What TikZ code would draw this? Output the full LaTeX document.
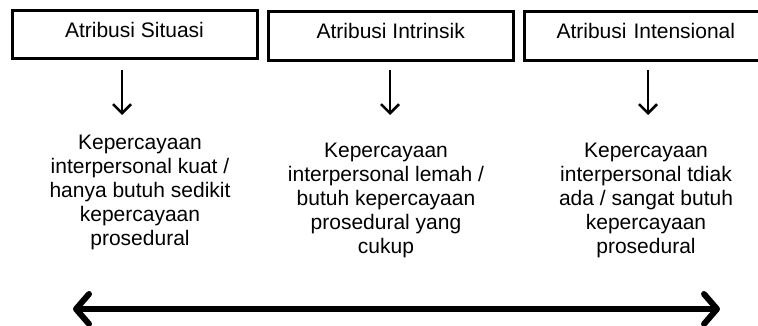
\documentclass[tikz,border=0pt]{standalone}
\usepackage{fontspec}
\setmainfont{Liberation Sans}
\usetikzlibrary{arrows.meta}
\begin{document}
\begin{tikzpicture}[x=1pt,y=-1pt,
  box/.style={draw, line width=3pt, inner sep=0pt, text height=15pt, text depth=10pt,
    font=\fontsize{21}{24}\selectfont},
  desc/.style={align=center, anchor=north, inner sep=0pt, font=\fontsize{21}{24}\selectfont},
  downarr/.style={line width=2.5pt, -{Straight Barb[length=9pt,width=18pt]}},
  bigarr/.style={line width=6pt, {Straight Barb[length=13pt,width=30pt,round]}-{Straight Barb[length=13pt,width=30pt,round]}}
]
\useasboundingbox (0,0) rectangle (758,326);
\clip (0,0) rectangle (758,326);
\fill[white] (0,0) rectangle (758,326);

\node[box, minimum width=245pt, minimum height=48pt] (b1) at (134.5,35) {Atribusi Situasi};
\node[box, minimum width=244.5pt, minimum height=49pt] (b2) at (390.75,36.5) {Atribusi Intrinsik};
\node[box, minimum width=246pt, minimum height=49pt, text width=243pt, align=left] (b3) at (647,36.5) {\hspace*{31pt}Atribusi Intensional};

\coordinate (a1s) at (122,70); \coordinate (a1e) at (122,115);
\coordinate (a2s) at (390,70); \coordinate (a2e) at (390,115);
\coordinate (a3s) at (648,70); \coordinate (a3e) at (648,115);
\draw[downarr] (a1s) -- (a1e);
\draw[downarr] (a2s) -- (a2e);
\draw[downarr] (a3s) -- (a3e);

\node[desc] (t1) at (140,135) {Kepercayaan\\interpersonal kuat /\\hanya butuh sedikit\\kepercayaan\\prosedural};
\node[desc] (t2) at (386,143) {Kepercayaan\\interpersonal lemah /\\butuh kepercayaan\\prosedural yang\\cukup};
\node[desc] (t3) at (646,143) {Kepercayaan\\interpersonal tdiak\\ada / sangat butuh\\kepercayaan\\prosedural};

\coordinate (L) at (73,309);
\coordinate (R) at (720,309);
\draw[bigarr] (L) -- (R);
\end{tikzpicture}
\end{document}
